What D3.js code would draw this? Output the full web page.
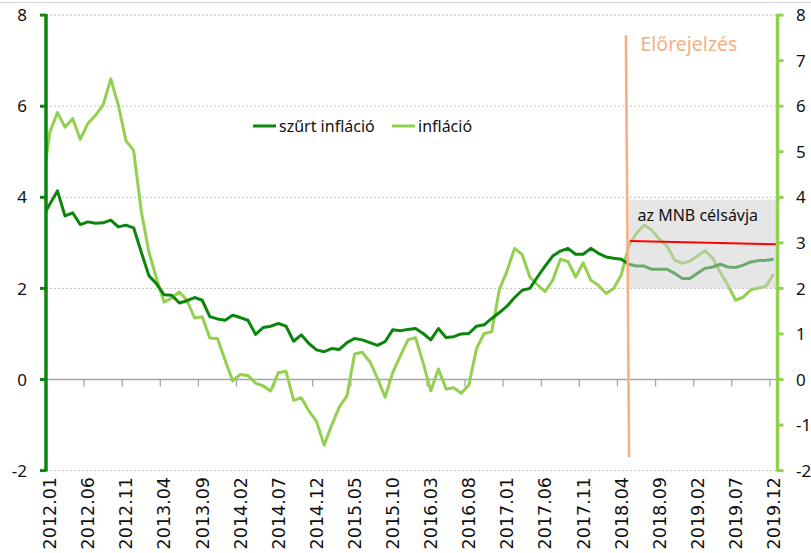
<!DOCTYPE html>
<html><head><meta charset="utf-8">
<script src="https://cdn.jsdelivr.net/npm/d3@7"></script>
<style>html,body{margin:0;padding:0;background:#fff;} svg{display:block;}</style>
</head><body><svg id="c" width="811" height="553"></svg>
<script>
// ---- data ----
const months = ["2011.12"];
for (let y = 2012; y <= 2019; y++) for (let m = 1; m <= 12; m++) months.push(y + "." + String(m).padStart(2, "0"));

const tickLabels = ["2012.01","2012.06","2012.11","2013.04","2013.09","2014.02","2014.07","2014.12","2015.05","2015.10",
  "2016.03","2016.08","2017.01","2017.06","2017.11","2018.04","2018.09","2019.02","2019.07","2019.12"];

const filtered = [3.55,
  3.85,4.14,3.59,3.66,3.40,3.46,3.43,3.44,3.50,3.35,3.39,3.33,
  2.80,2.28,2.10,1.86,1.85,1.68,1.73,1.80,1.74,1.38,1.33,1.30,
  1.41,1.36,1.30,0.99,1.14,1.17,1.23,1.17,0.84,0.98,0.79,0.65,
  0.61,0.68,0.66,0.81,0.90,0.87,0.81,0.75,0.83,1.09,1.07,1.10,
  1.12,1.01,0.87,1.12,0.92,0.94,1.00,1.01,1.17,1.20,1.34,1.47,
  1.61,1.80,1.96,2.00,2.25,2.49,2.71,2.82,2.88,2.75,2.75,2.88,
  2.77,2.69,2.66,2.64,2.53,2.49,2.49,2.42,2.42,2.42,2.33,2.22,
  2.22,2.33,2.44,2.47,2.53,2.47,2.46,2.51,2.58,2.61,2.62,2.64];

const inflation = [4.20,
  5.43,5.86,5.54,5.73,5.27,5.62,5.80,6.03,6.60,6.02,5.24,5.03,
  3.70,2.80,2.22,1.70,1.79,1.92,1.74,1.35,1.38,0.91,0.90,0.43,
  -0.03,0.11,0.09,-0.08,-0.14,-0.25,0.15,0.18,-0.46,-0.40,-0.69,-0.92,
  -1.44,-1.00,-0.60,-0.36,0.56,0.60,0.39,0.03,-0.39,0.15,0.52,0.87,
  0.92,0.36,-0.25,0.23,-0.21,-0.18,-0.30,-0.12,0.68,1.01,1.05,1.98,
  2.38,2.88,2.74,2.25,2.08,1.93,2.18,2.64,2.59,2.25,2.56,2.18,
  2.07,1.89,2.00,2.30,2.95,3.21,3.39,3.28,3.08,2.93,2.62,2.55,
  2.60,2.71,2.83,2.66,2.35,2.07,1.74,1.81,1.97,2.01,2.05,2.32];

const seriesNames = ["szűrt infláció", "infláció"];
const forecastStart = "2018.05";
const targetBand = [2, 3.95];
const targetLine = [3.04, 2.97];
const forecastMarker = [7.56, -1.70];
const leftTicks = [-2, 0, 2, 4, 6, 8];
const rightTicks = [-2, -1, 0, 1, 2, 3, 4, 5, 6, 7, 8];

// ---- layout ----
const W = 811, H = 553;
const plotLeft = 46, plotRight = 777.5, yTop = 15.1, yBot = 470.6;
const cDark = "#0b850b", cLight = "#92d050", cOrange = "#f4b183";

const svg = d3.select("#c");
const idx0 = months.indexOf("2012.01");
const x = d3.scaleLinear().domain([-0.5, 95.5]).range([plotLeft, plotRight]);
const xm = m => x(months.indexOf(m) - idx0);
const y = d3.scaleLinear().domain([-2, 8]).range([yBot, yTop]);

// top border
svg.append("line").attr("x1", 0).attr("x2", W).attr("y1", 2.5).attr("y2", 2.5)
  .attr("stroke", "#d0d0d0").attr("stroke-width", 1);

// gridlines
svg.append("g").selectAll("line").data(leftTicks.filter(v => v !== 0)).join("line")
  .attr("x1", plotLeft).attr("x2", plotRight).attr("y1", d => y(d)).attr("y2", d => y(d))
  .attr("stroke", "#c4c4c4").attr("stroke-width", 1).attr("stroke-dasharray", "2,2");

// zero axis with ticks between categories
svg.append("line").attr("x1", plotLeft).attr("x2", plotRight).attr("y1", y(0)).attr("y2", y(0))
  .attr("stroke", "#a6a6a6").attr("stroke-width", 1.5);
const boundaries = d3.range(1, 20).map(j => j * 5 - 0.5);
svg.append("g").selectAll("line").data(boundaries).join("line")
  .attr("x1", d => x(d)).attr("x2", d => x(d)).attr("y1", y(0)).attr("y2", y(0) + 7)
  .attr("stroke", "#a6a6a6").attr("stroke-width", 1.3);

// x labels
svg.append("g").selectAll("text").data(tickLabels).join("text")
  .attr("transform", d => `translate(${xm(d)},477) rotate(-90)`)
  .attr("text-anchor", "end").attr("dy", "0.36em")
  .attr("font-family", "DejaVu Sans").attr("font-size", 17.5).attr("fill", "#111")
  .text(d => d);

// clip
svg.append("clipPath").attr("id", "plotclip").append("rect")
  .attr("x", plotLeft).attr("y", 0).attr("width", plotRight - plotLeft).attr("height", H);

const line = d3.line().x((d, i) => x(i - idx0)).y(d => y(d));
const gl = svg.append("g").attr("clip-path", "url(#plotclip)");
gl.append("path").datum(inflation).attr("d", line).attr("fill", "none")
  .attr("stroke", cLight).attr("stroke-width", 3).attr("stroke-linejoin", "round");
gl.append("path").datum(filtered).attr("d", line).attr("fill", "none")
  .attr("stroke", cDark).attr("stroke-width", 3).attr("stroke-linejoin", "round");

// target band (translucent overlay)
const bandX0 = xm(forecastStart);
svg.append("rect").attr("x", bandX0).attr("y", y(targetBand[1]))
  .attr("width", plotRight - bandX0).attr("height", y(targetBand[0]) - y(targetBand[1]))
  .attr("fill", "#cdcdcd").attr("fill-opacity", 0.5);
svg.append("line").attr("x1", bandX0 + 1).attr("x2", plotRight).attr("y1", y(targetLine[0])).attr("y2", y(targetLine[1]))
  .attr("stroke", "#ff0000").attr("stroke-width", 2);
svg.append("text").attr("x", 637.5).attr("y", 220.5)
  .attr("font-family", "Noto Sans").attr("font-size", 16).attr("fill", "#111").text("az MNB célsávja");

// forecast marker
const fx = bandX0 - 3;
svg.append("line").attr("x1", fx).attr("x2", fx + 3.2).attr("y1", y(forecastMarker[0])).attr("y2", y(forecastMarker[1]))
  .attr("stroke", cOrange).attr("stroke-width", 2.6);
svg.append("text").attr("x", 640.5).attr("y", 51)
  .attr("font-family", "Noto Sans").attr("font-size", 19.5).attr("fill", cOrange).text("Előrejelzés");

// left axis
svg.append("line").attr("x1", plotLeft).attr("x2", plotLeft).attr("y1", yTop - 1).attr("y2", yBot + 1)
  .attr("stroke", cDark).attr("stroke-width", 3.5);
svg.append("g").selectAll("line").data(leftTicks).join("line")
  .attr("x1", plotLeft - 6).attr("x2", plotLeft).attr("y1", d => y(d)).attr("y2", d => y(d))
  .attr("stroke", cDark).attr("stroke-width", 3);
svg.append("g").selectAll("text").data(leftTicks).join("text")
  .attr("x", 27).attr("y", d => y(d)).attr("dy", "0.36em").attr("text-anchor", "end")
  .attr("font-family", "Noto Sans").attr("font-size", 17).attr("fill", "#111").text(d => d);

// right axis
svg.append("line").attr("x1", plotRight).attr("x2", plotRight).attr("y1", yTop - 1).attr("y2", yBot + 1)
  .attr("stroke", cLight).attr("stroke-width", 3.5);
svg.append("g").selectAll("line").data(rightTicks).join("line")
  .attr("x1", plotRight).attr("x2", plotRight + 6).attr("y1", d => y(d)).attr("y2", d => y(d))
  .attr("stroke", cLight).attr("stroke-width", 3);
svg.append("g").selectAll("text").data(rightTicks).join("text")
  .attr("x", 796).attr("y", d => y(d)).attr("dy", "0.36em").attr("text-anchor", "start")
  .attr("font-family", "Noto Sans").attr("font-size", 17).attr("fill", "#111").text(d => d);

// legend
const leg = [{name: seriesNames[0], c: cDark, x: 253}, {name: seriesNames[1], c: cLight, x: 392}];
const lg = svg.append("g").selectAll("g").data(leg).join("g");
lg.append("line").attr("x1", d => d.x).attr("x2", d => d.x + 23).attr("y1", 126).attr("y2", 126)
  .attr("stroke", d => d.c).attr("stroke-width", 3);
lg.append("text").attr("x", d => d.x + 26).attr("y", 132)
  .attr("font-family", "Noto Sans").attr("font-size", 16).attr("fill", "#111").text(d => d.name);
</script>
</body></html>
